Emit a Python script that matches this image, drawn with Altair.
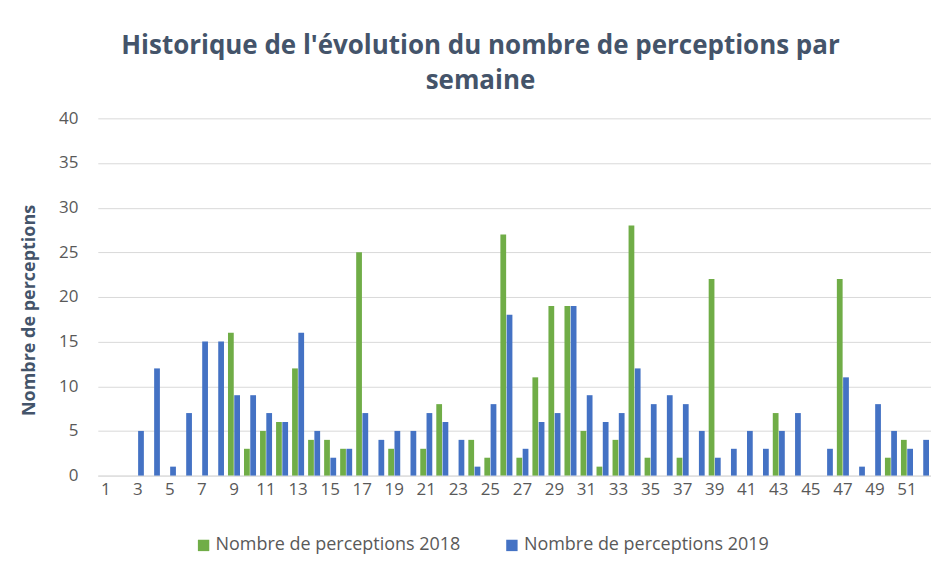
import altair as alt
import pandas as pd

weeks = list(range(1, 53))
s2018 = [0, 0, 0, 0, 0, 0, 0, 0, 16, 3, 5, 6, 12, 4, 4, 3, 25, 0, 3, 0, 3, 8, 0, 4, 2, 27,
         2, 11, 19, 19, 5, 1, 4, 28, 2, 0, 2, 0, 22, 0, 0, 0, 7, 0, 0, 0, 22, 0, 0, 2, 4, 0]
s2019 = [0, 0, 5, 12, 1, 7, 15, 15, 9, 9, 7, 6, 16, 5, 2, 3, 7, 4, 5, 5, 7, 6, 4, 1, 8, 18,
         3, 6, 7, 19, 9, 6, 7, 12, 8, 9, 8, 5, 2, 3, 5, 3, 5, 7, 0, 3, 11, 1, 8, 5, 3, 4]
series_names = ["Nombre de perceptions 2018", "Nombre de perceptions 2019"]
colors = ["#70AD47", "#4472C4"]

rows = []
for w, a, b in zip(weeks, s2018, s2019):
    rows.append({"semaine": w, "serie": series_names[0], "valeur": a})
    rows.append({"semaine": w, "serie": series_names[1], "valeur": b})
df = pd.DataFrame(rows)

FONT = "Open Sans"

chart = alt.Chart(df).mark_bar().encode(
    x=alt.X("semaine:O", title=None,
            scale=alt.Scale(domain=weeks, paddingInner=0.25, paddingOuter=0.125),
            axis=alt.Axis(values=list(range(1, 53, 2)), labelAngle=0, ticks=False,
                          domainColor="#d9d9d9", labelColor="#595959", labelFontSize=17,
                          labelFont=FONT, labelPadding=6)),
    xOffset=alt.XOffset("serie:N", sort=series_names,
                        scale=alt.Scale(paddingInner=0.08)),
    y=alt.Y("valeur:Q", title="Nombre de perceptions",
            scale=alt.Scale(domain=[0, 40]),
            axis=alt.Axis(values=list(range(0, 41, 5)), ticks=False, domain=False,
                          gridColor="#d9d9d9", labelColor="#595959", labelFontSize=17,
                          labelFont=FONT, labelPadding=20,
                          titleColor="#44546A", titleFont=FONT, titleFontSize=18,
                          titleFontWeight="bold", titlePadding=20, titleY=192)),
    color=alt.Color("serie:N", sort=series_names,
                    scale=alt.Scale(domain=series_names, range=colors),
                    legend=alt.Legend(title=None, orient="none", direction="horizontal",
                                      legendX=97, legendY=419, symbolType="square",
                                      symbolSize=130, symbolStrokeWidth=0,
                                      labelFont=FONT, labelFontSize=18, labelOffset=3,
                                      labelColor="#595959", columnPadding=42,
                                      labelLimit=400)),
).properties(
    width=835,
    height=358,
    autosize=alt.AutoSizeParams(type="none"),
    padding={"left": 90, "top": 110, "right": 0, "bottom": 80},
    title=alt.Title(["Historique de l'évolution du nombre de perceptions par", "semaine"],
                    font=FONT, fontSize=26, fontWeight="bold", color="#44546A",
                    anchor="middle", dx=-34, offset=15, lineHeight=35),
).configure_view(stroke=None)

chart.save("out.html", embed_options={"renderer": "svg", "actions": False})
